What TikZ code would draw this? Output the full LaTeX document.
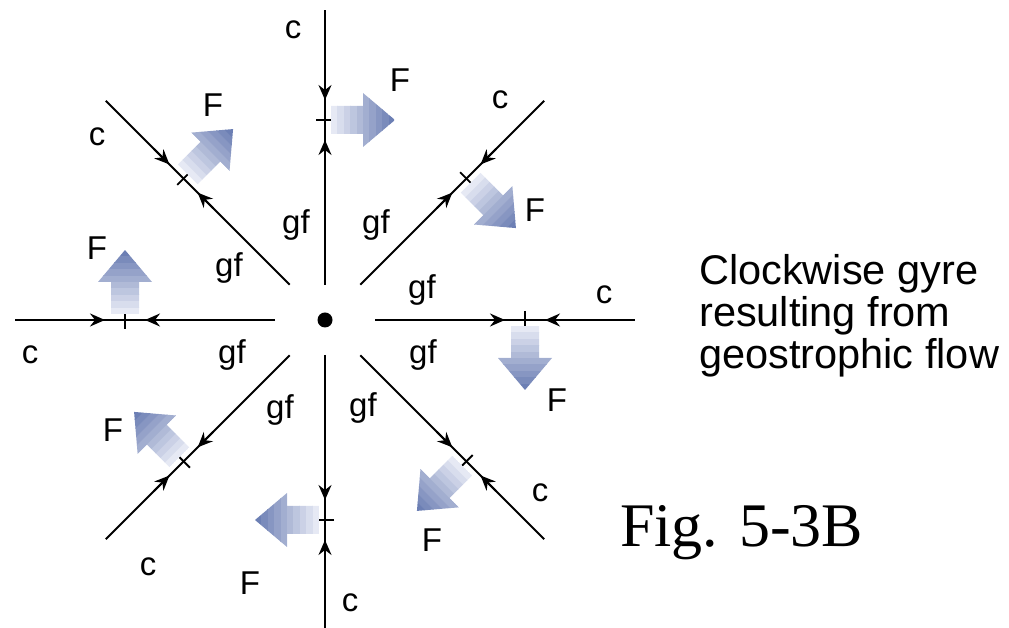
\documentclass[tikz,border=0pt]{standalone}
\usepackage{fontspec}
\setmainfont{Liberation Sans}
\newfontfamily\figserif{Liberation Serif}
\usetikzlibrary{arrows.meta,calc}
\definecolor{Fdark}{RGB}{108,127,180}
\definecolor{Flight}{RGB}{230,233,244}
\begin{document}
\begin{tikzpicture}[x=1pt,y=1pt,
  flow/.style={line width=1.9pt},
  tipline/.style={-{Stealth[length=15pt,width=13pt,inset=5pt]}, line width=1.9pt},
  lab/.style={font=\fontsize{33}{33}\selectfont, inner sep=0pt},
  gyretext/.style={font=\fontsize{41.5}{42}\selectfont, inner sep=0pt, anchor=base west},
]
\useasboundingbox (0,0) rectangle (1009,628);
\node[circle, fill=black, minimum size=15pt, inner sep=0pt] (O) at (325,308) {};
\foreach \t/\rin [count=\k] in {90/35, 45/50, 0/50, -45/50, -90/35, -135/50, 180/50, 135/50} {
  \pgfmathsetmacro\tp{\t+90}
  \pgfmathsetmacro\tm{\t-90}
  \coordinate (in\k) at ($(O.center)+(\t:\rin)$);
  \coordinate (out\k) at ($(O.center)+(\t:310)$);
  \coordinate (tk\k) at ($(O.center)+(\t:200)$);
  \coordinate (ct\k) at ($(O.center)+(\t:220)$);
  \coordinate (cb\k) at ($(O.center)+(\t:242)$);
  \coordinate (gt\k) at ($(O.center)+(\t:180)$);
  \coordinate (gb\k) at ($(O.center)+(\t:158)$);
  \coordinate (ta\k) at ($(tk\k)+(\tp:9)$);
  \coordinate (tb\k) at ($(tk\k)+(\tm:9)$);
  \draw[flow] (in\k) -- (out\k);
  \draw[tipline] (cb\k) -- (ct\k);
  \draw[tipline] (gb\k) -- (gt\k);
  \draw[flow] (ta\k) -- (tb\k);
  \begin{scope}[shift={(tk\k)}, rotate=\tm]
    \clip (6,-14) -- (38,-14) -- (38,-27) -- (70,0) -- (38,27) -- (38,14) -- (6,14) -- cycle;
    \foreach \j in {0,...,9} {
      \pgfmathsetmacro\pc{\j*100/9}
      \fill[Fdark!\pc!Flight] ({6+6.4*\j},-30) rectangle ({6+6.4*\j+6.8},30);
    }
  \end{scope}
}
% c labels
\node[lab] (c1) at (293,598) {c};
\node[lab] (c2) at (500,528) {c};
\node[lab] (c3) at (604,333) {c};
\node[lab] (c4) at (540,135) {c};
\node[lab] (c5) at (350,25) {c};
\node[lab] (c6) at (148,61) {c};
\node[lab] (c7) at (30,273) {c};
\node[lab] (c8) at (97,491) {c};
% gf labels
\node[lab] (g1) at (296,403) {gf};
\node[lab] (g2) at (376,403) {gf};
\node[lab] (g3) at (422,338) {gf};
\node[lab] (g4) at (423,273) {gf};
\node[lab] (g5) at (363,220) {gf};
\node[lab] (g6) at (280,218) {gf};
\node[lab] (g7) at (232,273) {gf};
\node[lab] (g8) at (229,360) {gf};
% F labels
\node[lab] (F1) at (400,548) {F};
\node[lab] (F2) at (535,418) {F};
\node[lab] (F3) at (557,228) {F};
\node[lab] (F4) at (432,88) {F};
\node[lab] (F5) at (250,45) {F};
\node[lab] (F6) at (113,198) {F};
\node[lab] (F7) at (97,380) {F};
\node[lab] (F8) at (213,523) {F};
% caption texts
\node[gyretext] (t1) at (699,343) {Clockwise gyre};
\node[gyretext] (t2) at (699,301) {resulting from};
\node[gyretext] (t3) at (699,259) {geostrophic flow};
\node[anchor=base west, inner sep=0pt, font=\figserif\fontsize{62}{62}\selectfont] (fig) at (620,81) {Fig. 5-3B};
\end{tikzpicture}
\end{document}
